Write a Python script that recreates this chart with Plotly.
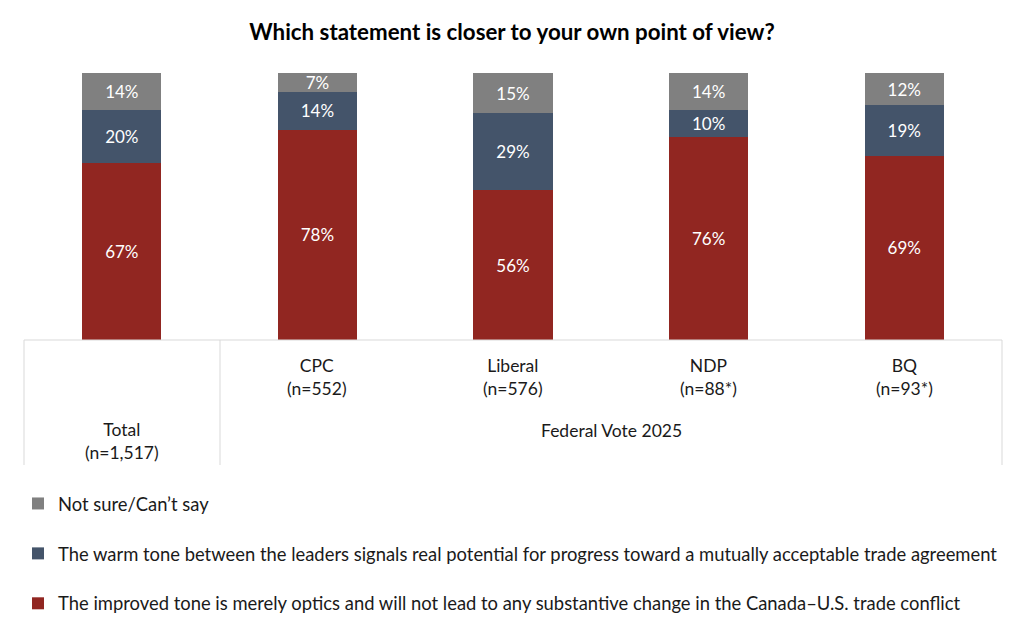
import plotly.graph_objects as go

categories = ["Total", "CPC", "Liberal", "NDP", "BQ"]
cat_labels = ["Total<br>(n=1,517)", "CPC<br>(n=552)", "Liberal<br>(n=576)", "NDP<br>(n=88*)", "BQ<br>(n=93*)"]
optics = [67, 78, 56, 76, 69]
warm = [20, 14, 29, 10, 19]
not_sure = [14, 7, 15, 14, 12]
group_label = "Federal Vote 2025"
title = "Which statement is closer to your own point of view?"
names = [
    "The improved tone is merely optics and will not lead to any substantive change in the Canada\u2013U.S. trade conflict",
    "The warm tone between the leaders signals real potential for progress toward a mutually acceptable trade agreement",
    "Not sure/Can\u2019t say",
]
colors = ["#912621", "#44546A", "#808080"]
ranks = [3, 2, 1]

FONT = "Lato"
W, H = 1024, 643
x0px, x1px = 24, 1002
ytop, ybot = 73, 340

fig = go.Figure()
for vals, name, col, rk in zip([optics, warm, not_sure], names, colors, ranks):
    fig.add_trace(go.Bar(
        x=categories, y=vals, name=name, marker=dict(color=col, line=dict(width=0)),
        text=[f"{v}%" for v in vals], texttemplate="%{text}", textposition="inside",
        insidetextanchor="middle", textangle=0,
        textfont=dict(color="white", size=17, family=FONT),
        width=0.405, legendgroup=name, legendrank=rk,
    ))

shapes = []
def px_x(p):
    return p / W
def px_y(p):
    return 1 - p / H
line = dict(color="#D9D9D9", width=1)
shapes.append(dict(type="line", xref="paper", yref="paper", x0=px_x(x0px), x1=px_x(x1px), y0=px_y(ybot), y1=px_y(ybot), line=line))
for xp in [x0px, 220, x1px]:
    shapes.append(dict(type="line", xref="paper", yref="paper", x0=px_x(xp), x1=px_x(xp), y0=px_y(ybot), y1=px_y(465), line=line))

annotations = []
for i, (c, lab) in enumerate(zip(categories, cat_labels)):
    yy = 441 if i == 0 else 377
    annotations.append(dict(x=c, y=px_y(yy), xref="x", yref="paper", text=lab, showarrow=False,
                            font=dict(size=17.5, family=FONT, color="#1a1a1a"), yanchor="middle", align="center"))
annotations.append(dict(x=px_x(611), y=px_y(430), xref="paper", yref="paper", text=group_label, showarrow=False,
                        font=dict(size=17.5, family=FONT, color="#1a1a1a"), yanchor="middle"))

fig.update_layout(
    width=W, height=H, barmode="stack", barnorm="percent",
    margin=dict(l=0, r=0, t=0, b=0),
    paper_bgcolor="white", plot_bgcolor="white",
    title=dict(text=f"<b>{title}</b>", x=0.5, xanchor="center", y=1 - 32 / H, yanchor="middle",
               font=dict(size=22.3, family=FONT, color="black")),
    xaxis=dict(domain=[px_x(x0px), px_x(x1px)], showticklabels=False, showgrid=False, zeroline=False,
               range=[-0.5, 4.5], showline=False),
    yaxis=dict(domain=[px_y(ybot), px_y(ytop)], range=[0, 100], visible=False),
    showlegend=True,
    legend=dict(x=px_x(18), y=px_y(485), xanchor="left", yanchor="top", traceorder="grouped",
                tracegroupgap=23, font=dict(size=18.4, family=FONT, color="#1a1a1a"), bgcolor="rgba(0,0,0,0)"),
    shapes=shapes, annotations=annotations,
    uniformtext=dict(mode="show", minsize=17),
)
fig.write_html("out.html")
